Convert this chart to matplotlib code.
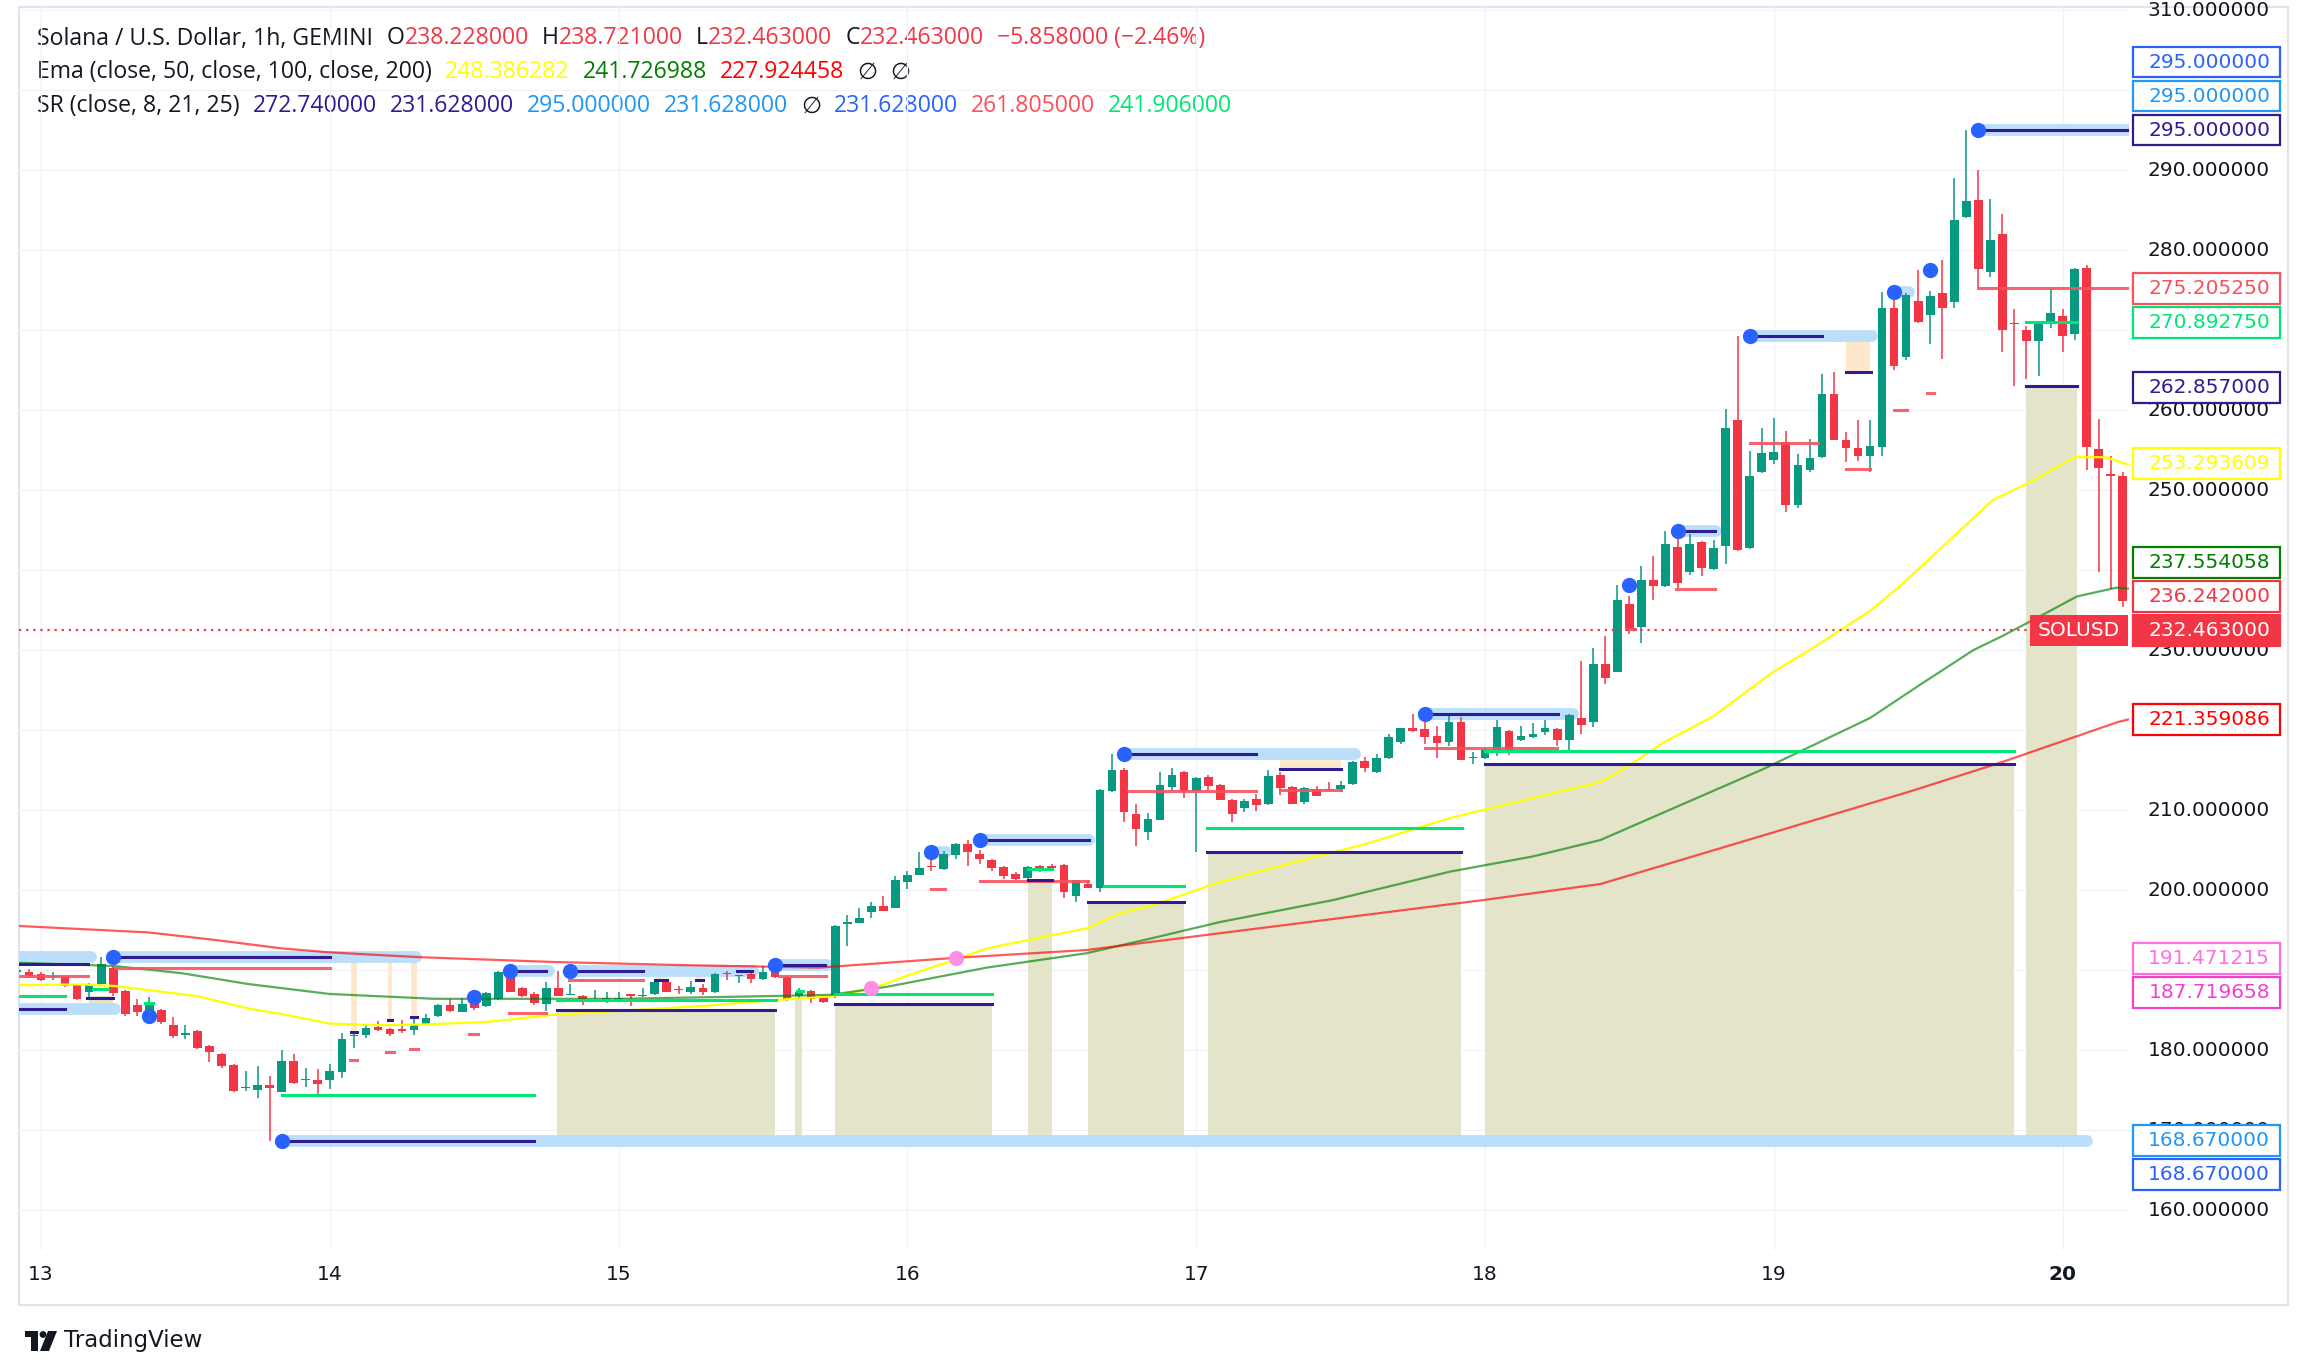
import matplotlib
matplotlib.use("Agg")
import matplotlib.pyplot as plt
import matplotlib.transforms as mtransforms
from matplotlib.patches import Rectangle, Circle, Polygon

W, H, DPI = 2308, 1369, 100

# ---------------- data ----------------
# candle hours, counted from the 13th 00:00 (1h bars)
hours = list(range(-2, 175))

opens = [
    189.8, 189.8, 189.5, 189.1, 189.25, 188.2, 187.2, 188.2, 190.3, 187.4, 185.6, 184.6,
    185.0, 183.1, 181.9, 182.4, 180.5, 179.5, 178.1, 175.2, 175.0, 175.6, 174.8, 178.6,
    176.2, 176.25, 176.25, 177.2, 181.7, 181.9, 182.9, 182.6, 182.6, 182.5, 183.25, 184.25,
    185.6, 184.8, 185.8, 185.5, 186.4, 189.25, 187.8, 187.0, 185.75, 187.8, 186.9, 186.7,
    186.2, 186.3, 186.3, 186.9, 186.7, 187.0, 188.5, 187.6, 187.25, 187.8, 187.2, 189.6,
    189.2, 189.5, 188.9, 190.4, 189.1, 186.7, 187.4, 186.6, 186.75, 195.8, 195.9, 197.2,
    198.0, 197.8, 201.0, 201.9, 203.0, 202.6, 204.4, 205.8, 204.5, 203.8, 202.9, 202.0,
    201.5, 203.0, 203.0, 203.1, 199.3, 200.75, 200.2, 212.4, 215.0, 209.5, 207.3, 208.8,
    212.9, 214.7, 212.4, 214.1, 213.1, 211.3, 210.2, 211.4, 210.7, 214.4, 212.9, 211.0,
    212.6, 212.6, 212.6, 213.2, 216.1, 214.75, 216.5, 218.5, 220.3, 220.1, 219.25, 218.5,
    221.0, 216.5, 216.5, 217.2, 219.9, 218.7, 219.1, 219.7, 220.1, 218.8, 221.5, 221.0,
    228.25, 227.25, 235.7, 232.9, 238.75, 238.0, 242.9, 239.7, 243.5, 240.1, 243.0, 258.8,
    242.75, 252.25, 253.75, 256.0, 248.1, 252.5, 254.1, 262.0, 256.3, 255.3, 254.25, 255.4,
    272.7, 266.6, 273.6, 271.9, 274.6, 273.5, 284.1, 286.25, 277.2, 282.0, 270.9, 270.0,
    268.6, 271.0, 271.7, 269.5, 277.7, 255.1, 251.9, 251.7, 238.228,
]
highs = [
    190.2, 190.1, 189.7, 189.7, 189.3, 188.3, 188.4, 191.6, 190.5, 187.5, 186.4, 186.6,
    185.1, 184.1, 183.1, 182.5, 180.6, 179.6, 178.2, 177.4, 178.0, 176.7, 180.0, 179.5,
    177.8, 177.6, 178.25, 182.1, 182.3, 183.3, 183.6, 182.7, 183.8, 184.1, 184.5, 185.7,
    186.4, 186.5, 186.0, 187.2, 189.9, 189.6, 187.9, 187.2, 188.5, 189.9, 188.3, 186.9,
    187.5, 187.25, 187.2, 186.9, 187.7, 188.6, 188.6, 188.0, 188.6, 188.2, 189.6, 189.9,
    189.3, 189.6, 190.5, 190.5, 189.2, 187.7, 187.5, 186.7, 195.6, 196.9, 197.8, 198.5,
    199.2, 201.7, 202.4, 204.75, 204.4, 204.9, 205.9, 206.2, 205.0, 203.9, 203.0, 202.3,
    203.0, 203.1, 203.2, 203.2, 201.3, 201.3, 212.6, 217.0, 215.3, 210.75, 209.6, 214.7,
    215.2, 214.9, 214.1, 214.4, 213.2, 211.4, 211.4, 212.0, 215.0, 214.75, 213.0, 212.9,
    213.0, 213.5, 213.6, 216.1, 216.6, 217.0, 219.5, 220.3, 222.0, 221.3, 220.5, 221.9,
    221.6, 217.25, 217.8, 221.25, 220.0, 220.5, 220.9, 221.25, 220.2, 222.0, 228.6, 230.2,
    231.75, 238.1, 236.7, 240.5, 241.8, 244.9, 244.2, 244.5, 243.6, 243.8, 260.1, 269.2,
    254.9, 257.8, 259.0, 257.4, 254.5, 256.4, 264.5, 264.7, 257.3, 258.8, 258.8, 274.75,
    274.5, 274.6, 277.5, 274.85, 278.8, 289.0, 295.0, 290.0, 286.4, 284.5, 272.6, 270.45,
    271.1, 275.1, 272.65, 277.7, 278.1, 258.9, 254.2, 252.2, 238.721,
]
lows = [
    189.6, 189.0, 188.6, 188.75, 187.9, 186.3, 186.6, 188.0, 186.75, 184.2, 184.2, 184.5,
    183.3, 181.5, 181.4, 180.1, 178.5, 177.8, 174.8, 174.9, 174.0, 168.67, 174.7, 175.8,
    175.4, 174.3, 175.1, 176.5, 180.3, 181.5, 182.4, 181.8, 182.1, 181.9, 183.1, 184.1,
    184.8, 184.7, 185.0, 185.4, 186.3, 187.2, 186.6, 185.6, 184.9, 186.7, 186.9, 185.6,
    186.0, 185.9, 186.0, 185.5, 186.6, 186.9, 187.2, 187.0, 187.0, 186.9, 187.1, 188.7,
    188.4, 188.4, 188.8, 189.0, 186.1, 186.5, 185.9, 185.9, 186.5, 193.0, 195.9, 196.5,
    197.4, 197.7, 200.1, 201.9, 202.4, 202.5, 203.9, 203.0, 203.2, 202.4, 201.4, 201.3,
    201.4, 202.3, 202.7, 199.0, 198.5, 200.2, 199.8, 212.3, 208.5, 205.5, 206.3, 208.7,
    212.4, 211.5, 204.7, 212.5, 211.2, 208.5, 209.8, 209.9, 210.6, 211.9, 210.7, 210.8,
    211.7, 212.4, 212.3, 213.1, 214.7, 214.6, 216.4, 218.25, 219.8, 218.25, 216.5, 218.0,
    216.2, 215.8, 216.4, 216.7, 216.9, 218.6, 219.0, 219.4, 218.0, 217.4, 219.5, 220.4,
    225.75, 227.2, 232.0, 230.9, 236.25, 237.9, 237.8, 239.4, 239.25, 240.0, 240.8, 242.4,
    242.6, 252.1, 253.2, 247.25, 247.7, 252.3, 254.0, 256.2, 253.5, 253.6, 252.25, 254.25,
    265.0, 266.2, 270.9, 268.3, 266.4, 272.8, 284.0, 275.4, 276.6, 267.2, 263.0, 263.9,
    264.3, 270.2, 267.3, 268.8, 252.5, 239.75, 237.6, 235.4, 232.463,
]
closes = [
    190.0, 189.2, 188.7, 189.3, 188.0, 186.4, 188.3, 190.75, 187.1, 184.5, 184.8, 185.6,
    183.5, 181.7, 182.1, 180.3, 179.8, 178.0, 174.9, 175.4, 175.6, 175.2, 178.6, 175.9,
    176.3, 175.8, 177.4, 181.4, 181.8, 182.7, 182.5, 182.0, 182.4, 183.1, 184.0, 185.6,
    184.9, 185.8, 185.2, 187.1, 189.7, 187.3, 186.8, 185.9, 187.7, 186.8, 187.0, 186.25,
    186.3, 186.35, 186.4, 186.8, 186.8, 188.5, 187.3, 187.5, 187.9, 187.2, 189.5, 189.5,
    189.3, 188.9, 189.7, 189.1, 186.2, 187.25, 186.4, 186.0, 195.5, 195.9, 196.5, 198.0,
    197.4, 201.25, 201.9, 202.7, 202.9, 204.5, 205.8, 204.7, 203.9, 202.8, 201.7, 201.4,
    202.9, 202.7, 202.8, 199.75, 201.2, 200.3, 212.5, 215.0, 209.7, 207.6, 208.9, 213.1,
    214.4, 212.4, 214.0, 213.0, 211.25, 209.5, 211.1, 210.6, 214.25, 212.8, 210.8, 212.8,
    211.8, 212.5, 213.1, 216.0, 215.2, 216.5, 219.1, 220.2, 219.9, 219.1, 218.4, 221.0,
    216.25, 216.6, 217.5, 220.4, 217.4, 219.3, 219.5, 220.2, 218.75, 221.9, 220.6, 228.2,
    226.5, 236.3, 232.6, 238.7, 238.0, 243.3, 238.4, 243.3, 240.2, 242.7, 257.8, 242.5,
    251.8, 254.6, 254.8, 248.1, 253.1, 254.0, 262.0, 256.3, 255.2, 254.25, 255.5, 272.8,
    265.5, 274.4, 271.0, 274.2, 272.8, 283.8, 286.1, 277.6, 281.2, 270.0, 270.7, 268.6,
    271.0, 272.1, 269.3, 277.6, 255.35, 252.8, 251.8, 236.1, 232.463,
]
last_price = 232.463

# EMA lines, read as (hour, value) points
ema50_h = [-1.8, 3.4, 6.1, 8.9, 13.1, 17.2, 20, 24, 28.3, 32, 37, 42.6, 48.1, 55, 61.1,
           65.6, 68.9, 72, 76, 78.6, 82.5, 86.9, 89.7, 92.4, 98, 103.2, 110.2, 117.1,
           124, 129.6, 131.5, 134.8, 139, 143.9, 147.3, 152, 154.5, 157.8, 162.2, 165.6,
           169, 171.6, 173.6]
ema50_v = [188.1, 188.2, 188.0, 187.5, 186.7, 185.2, 184.5, 183.3, 183.1, 183.2, 183.5,
           184.4, 184.9, 185.5, 186.25, 186.7, 187.6, 189.3, 191.3, 192.7, 193.9, 195.2,
           197.1, 198.1, 201.0, 203.1, 205.8, 209.0, 211.5, 213.5, 215.1, 218.4, 221.75,
           227.2, 230.3, 234.9, 238.0, 242.6, 248.75, 251.2, 254.1, 254.1, 253.1]
ema100_h = [-1.8, 6.1, 11.7, 17.2, 24, 32.7, 48.1, 59.2, 65.6, 70.3, 78.6, 86.9, 92.4,
            98, 107.4, 117.1, 124, 129.6, 143.1, 152, 156.1, 160.6, 162.8, 165.6, 169.2,
            172.5, 173.6]
ema100_v = [190.9, 190.5, 189.6, 188.25, 187.0, 186.4, 186.4, 186.7, 186.9, 187.9, 190.3,
            192.1, 194.0, 196.0, 198.75, 202.3, 204.2, 206.25, 215.1, 221.5, 225.6, 230.0,
            231.6, 233.8, 236.7, 237.8, 237.65]
ema200_h = [-1.8, 8.9, 14.5, 20, 24, 31.5, 42.6, 53.7, 64.7, 75.8, 86.9, 98, 119.9, 129.6,
            143.3, 155.5, 162.8, 172.6, 173.6]
ema200_v = [195.5, 194.7, 193.75, 192.7, 192.2, 191.6, 191.0, 190.6, 190.3, 191.5, 192.5,
            194.6, 198.75, 200.75, 206.9, 212.4, 215.9, 221.0, 221.36]

# SR indicator pieces: (hour from, hour to, price)
pivot_h = [6, 9, 20, 36, 39, 44, 61, 74, 78, 90, 115, 132, 136, 142, 154, 157, 161]
pivot_p = [191.6, 184.2, 168.67, 186.6, 189.9, 189.9, 190.6, 204.8, 206.2, 217.0, 222.0,
           238.1, 244.9, 269.25, 274.75, 277.5, 295.0]
cross_h = [69, 76]
cross_p = [187.72, 191.47]

band_lines = [(-1.83, 4.15, 191.6), (-1.83, 6.15, 185.1), (6, 31.2, 191.6), (20, 170.0, 168.67),
              (39, 42.2, 189.9), (44, 59.2, 189.9), (61, 65.3, 190.6), (74, 75.2, 204.8),
              (78, 87.1, 206.2), (90, 109.2, 217.0), (115, 127.3, 222.0), (136, 139.2, 244.9),
              (142, 152.2, 269.25), (154, 155.2, 274.75), (161, 176, 295.0)]
navy_lines = [(-1.83, 3.9, 190.8), (-1.83, 2.0, 185.1), (3.8, 6.0, 186.5), (6, 24, 191.6),
              (20, 41, 168.67), (39, 42, 189.9), (44, 50, 189.9), (57.8, 59.1, 189.9),
              (61, 65.15, 190.6), (42.9, 61.0, 185.0), (66, 79, 185.8), (78, 87.1, 206.2),
              (82, 84, 201.3), (87, 95, 198.5), (90, 101, 217.0), (96.9, 118, 204.7),
              (115, 126.1, 222.0), (120, 164, 215.8), (136, 139.1, 244.9), (142, 148, 269.25),
              (165, 169.2, 263.0), (161, 176, 295.0), (25.75, 26.25, 182.3), (28.8, 29.2, 183.7),
              (30.75, 31.25, 184.1), (51, 52, 188.75), (54.4, 55, 188.75), (103, 108, 215.1),
              (150, 152.1, 264.75)]
red_lines = [(-1.83, 3.9, 189.3), (6.15, 24, 190.3), (25.7, 26.3, 178.8), (28.7, 29.3, 179.8),
             (30.7, 31.3, 180.1), (35.6, 36.3, 182.0), (38.9, 42.0, 184.6), (43.9, 50.0, 188.7),
             (61.3, 65.2, 189.2), (74.0, 75.1, 200.1), (78.0, 87.0, 201.1), (90.3, 101.0, 212.4),
             (103.0, 108.0, 212.5), (115.0, 126.0, 217.7), (131.7, 132.5, 232.6),
             (135.9, 139.1, 237.6), (142.0, 147.7, 255.9), (150.0, 152.0, 252.6),
             (154.0, 155.1, 260.0), (156.7, 157.3, 262.1), (161.0, 176, 275.2)]
green_lines = [(-1.83, 2.0, 186.75), (4.35, 5.6, 187.6), (8.65, 9.3, 185.9), (20, 41, 174.4),
               (42.9, 61.1, 186.25), (62.8, 63.3, 187.4), (66, 79, 187.0), (82, 84, 202.6),
               (88.3, 95, 200.5), (96.9, 118.1, 207.8), (120, 164, 217.4), (165, 169.2, 271.0)]
# boxes: (hour from, hour to, bottom, top)
khaki_boxes = [(-1.83, 3.9, 190.6, 191.5), (4.0, 6.0, 185.2, 186.7), (42.9, 61.0, 168.67, 185.0),
               (62.7, 63.2, 168.67, 186.6), (66, 79, 168.67, 185.8), (82, 84, 168.67, 201.3),
               (87, 95, 168.67, 198.5), (97, 118, 168.67, 204.7), (120, 164, 168.67, 215.8),
               (165, 169.2, 168.67, 263.0)]
peach_boxes = [(25.75, 26.25, 182.3, 191.6), (28.8, 29.2, 183.7, 191.6), (30.75, 31.25, 184.1, 191.6),
               (51, 52, 188.75, 189.9), (54.4, 55, 188.75, 189.9), (103, 108, 215.1, 217.0),
               (150, 152, 264.75, 269.2)]

# price scale labels
label_values = [232.463, 295.0, 275.20525, 270.89275, 262.857, 253.293609, 236.242,
                221.359086, 191.471215, 168.67, 237.554058, 187.719658, 168.67, 295.0, 295.0]
label_colors = ["#f23645", "#311b92", "#f7525f", "#00e676", "#311b92", "#ffff00", "#f23645",
                "#ff0000", "#ff6fe0", "#2196f3", "#008000", "#f23fd2", "#2962ff", "#2196f3",
                "#2962ff"]
label_push = [1, 1, 1, 1, 1, 1, 1, 1, 1, 1, 1, -1, -1, 1, 1]
price_ticks = list(range(160, 311, 10))
day_labels = ["13", "14", "15", "16", "17", "18", "19", "20"]

BLACK = "#131722"
legend_rows = [
    [("Solana / U.S. Dollar, 1h, GEMINI", BLACK, 14), ("O", BLACK, 0), ("238.228000", "#f23645", 13),
     ("H", BLACK, 0), ("238.721000", "#f23645", 13), ("L", BLACK, 0), ("232.463000", "#f23645", 13),
     ("C", BLACK, 0), ("232.463000", "#f23645", 13), ("\u22125.858000 (\u22122.46%)", "#f23645", 0)],
    [("Ema (close, 50, close, 100, close, 200)", BLACK, 13), ("248.386282", "#ffff00", 13),
     ("241.726988", "#008000", 13), ("227.924458", "#ff0000", 13), ("\u2205", BLACK, 13),
     ("\u2205", BLACK, 0)],
    [("SR (close, 8, 21, 25)", BLACK, 13), ("272.740000", "#311b92", 13), ("231.628000", "#311b92", 13),
     ("295.000000", "#2196f3", 13), ("231.628000", "#2196f3", 13), ("\u2205", BLACK, 13),
     ("231.628000", "#2962ff", 13), ("261.805000", "#f7525f", 13), ("241.906000", "#00e676", 0)],
]

# ---------------- figure ----------------
plt.rcParams["font.family"] = ["DejaVu Sans"]
fig = plt.figure(figsize=(W / DPI, H / DPI), dpi=DPI, facecolor="white")

over = fig.add_axes([0, 0, 1, 1])
over.set_xlim(0, W)
over.set_ylim(H, 0)
over.axis("off")

PX0, PX1, PY0, PY1 = 19, 2129, 7, 1250
ax = fig.add_axes([PX0 / W, 1 - PY1 / H, (PX1 - PX0) / W, (PY1 - PY0) / H])
ax.patch.set_alpha(0)
ax.set_xlim(-1.83, 173.52)
ax.set_ylim(155.0, 310.375)
for s in ax.spines.values():
    s.set_visible(False)
ax.set_xticks([])
ax.set_yticks([])

# grid
for p in price_ticks:
    ax.axhline(p, color="#f0f3fa", lw=1.0, zorder=0)
for i in range(len(day_labels)):
    ax.axvline(24 * i, color="#f0f3fa", lw=1.0, zorder=0)

# SR boxes
for h0, h1, b, t in khaki_boxes:
    ax.add_patch(Rectangle((h0, b), h1 - h0, t - b, fc="#e4e4cb", ec="none", zorder=1))
for h0, h1, b, t in peach_boxes:
    ax.add_patch(Rectangle((h0, b), h1 - h0, t - b, fc="#fde8cc", ec="none", zorder=1))
for h0, h1, p in band_lines:
    ax.plot([h0, h1], [p, p], color="#bbdefb", lw=8.5, solid_capstyle="round", zorder=2)

# candles
up = "#089981"
down = "#f23645"
cols = [up if c >= o else down for o, c in zip(opens, closes)]
bottoms = [min(o, c) for o, c in zip(opens, closes)]
heights = [max(abs(c - o), 0.15) for o, c in zip(opens, closes)]
ax.vlines(hours, lows, highs, colors=cols, lw=1.1, zorder=3)
ax.bar(hours, heights, bottom=bottoms, width=0.72, color=cols, lw=0, zorder=3)

# EMAs
ax.plot(ema50_h, ema50_v, color="#ffff00", lw=1.6, zorder=4)
ax.plot(ema100_h, ema100_v, color="#008000", lw=1.6, alpha=0.65, zorder=4)
ax.plot(ema200_h, ema200_v, color="#ff0000", lw=1.6, alpha=0.65, zorder=4)

# SR lines and dots
for h0, h1, p in red_lines:
    ax.plot([h0, h1], [p, p], color="#f7525f", lw=2.2, alpha=0.9, zorder=4.5)
for h0, h1, p in green_lines:
    ax.plot([h0, h1], [p, p], color="#00e676", lw=2.2, zorder=4.5)
for h0, h1, p in navy_lines:
    ax.plot([h0, h1], [p, p], color="#311b92", lw=2.2, zorder=4.6)
ax.plot(pivot_h, pivot_p, "o", ms=11, color="#2962ff", mec="none", zorder=6)
ax.plot(cross_h, cross_p, "o", ms=11, color="#ff8fe6", mec="none", zorder=6)

# last price line + SOLUSD tag
blend = mtransforms.blended_transform_factory(ax.transAxes, ax.transData)
def fx(px):
    return (px - PX0) / (PX1 - PX0)

BOX_X0, BOX_X1, TXT_X = 2133, 2280, 2270
ax.plot([fx(PX0), fx(2030)], [last_price, last_price], transform=blend, color="#f23645",
        lw=1.6, ls=(0, (1, 2.2)), zorder=5)
BOX_H = 3.85
ax.add_patch(Rectangle((fx(2030), last_price - BOX_H / 2), fx(2128) - fx(2030), BOX_H,
                       transform=blend, fc="#f23645", ec="none", zorder=10, clip_on=False))
ax.text((fx(2030) + fx(2128)) / 2, last_price, "SOLUSD", transform=blend, ha="center",
        va="center", fontsize=14.5, color="white", zorder=11, clip_on=False)

# stacked labels on the price scale
GAP = 4.25
placed = []
for v, d in zip(label_values, label_push):
    y = v
    while True:
        hit = [q for q in placed if abs(y - q) < GAP - 1e-6]
        if not hit:
            break
        y = max(hit) + GAP if d > 0 else min(hit) - GAP
    placed.append(y)

# plain ticks, hidden where a label sits on top of them
for p in price_ticks:
    near = [q - p for q in placed]
    covered = any(abs(n) < 1.0 for n in near) or (
        any(0 < n < 3.0 for n in near) and any(-3.0 < n < 0 for n in near))
    if covered:
        continue
    ax.text(fx(TXT_X), p, f"{p:.6f}", transform=blend, ha="right", va="center",
            fontsize=14.5, color=BLACK, zorder=8, clip_on=False)

for i, (v, c, y) in enumerate(zip(label_values, label_colors, placed)):
    filled = i == 0
    ax.add_patch(Rectangle((fx(BOX_X0), y - BOX_H / 2), fx(BOX_X1) - fx(BOX_X0), BOX_H,
                           transform=blend, fc=c if filled else "white", ec=c, lw=1.6,
                           zorder=10, clip_on=False))
    ax.text(fx(TXT_X), y, f"{v:.6f}", transform=blend, ha="right", va="center", fontsize=14.5,
            color="white" if filled else c, zorder=11, clip_on=False)

# time scale
tblend = mtransforms.blended_transform_factory(ax.transData, ax.transAxes)
for i, lab in enumerate(day_labels):
    ax.text(24 * i, (PY1 - 1275) / (PY1 - PY0), lab, transform=tblend, ha="center", va="center",
            fontsize=14.5, color=BLACK, fontweight="bold" if lab == "20" else "normal",
            clip_on=False)

# frame
over.add_patch(Rectangle((19, 7), 2288 - 19, 1305 - 7, fc="none", ec="#e0e3eb", lw=1.5))

# legend rows
renderer = fig.canvas.get_renderer()
for row, yy in zip(legend_rows, [38.5, 72.5, 106.5]):
    x = 37
    for txt, col, gap in row:
        t = over.text(x, yy, txt, color=col, fontsize=16.6, ha="left", va="center",
                      family=["Open Sans", "DejaVu Sans"])
        x += t.get_window_extent(renderer).width + gap

# TradingView logo
over.add_patch(Rectangle((25, 1331), 13, 6, fc=BLACK, ec="none"))
over.add_patch(Rectangle((31, 1331), 7, 20, fc=BLACK, ec="none"))
over.add_patch(Circle((43, 1334.5), 3.4, fc=BLACK, ec="none"))
over.add_patch(Polygon([(48, 1331), (57, 1331), (49, 1351), (40, 1351)], closed=True, fc=BLACK, ec="none"))
over.text(64, 1340, "TradingView", fontsize=16.5, color=BLACK, ha="left", va="center")

fig.savefig("out.png", dpi=DPI, facecolor="white")
